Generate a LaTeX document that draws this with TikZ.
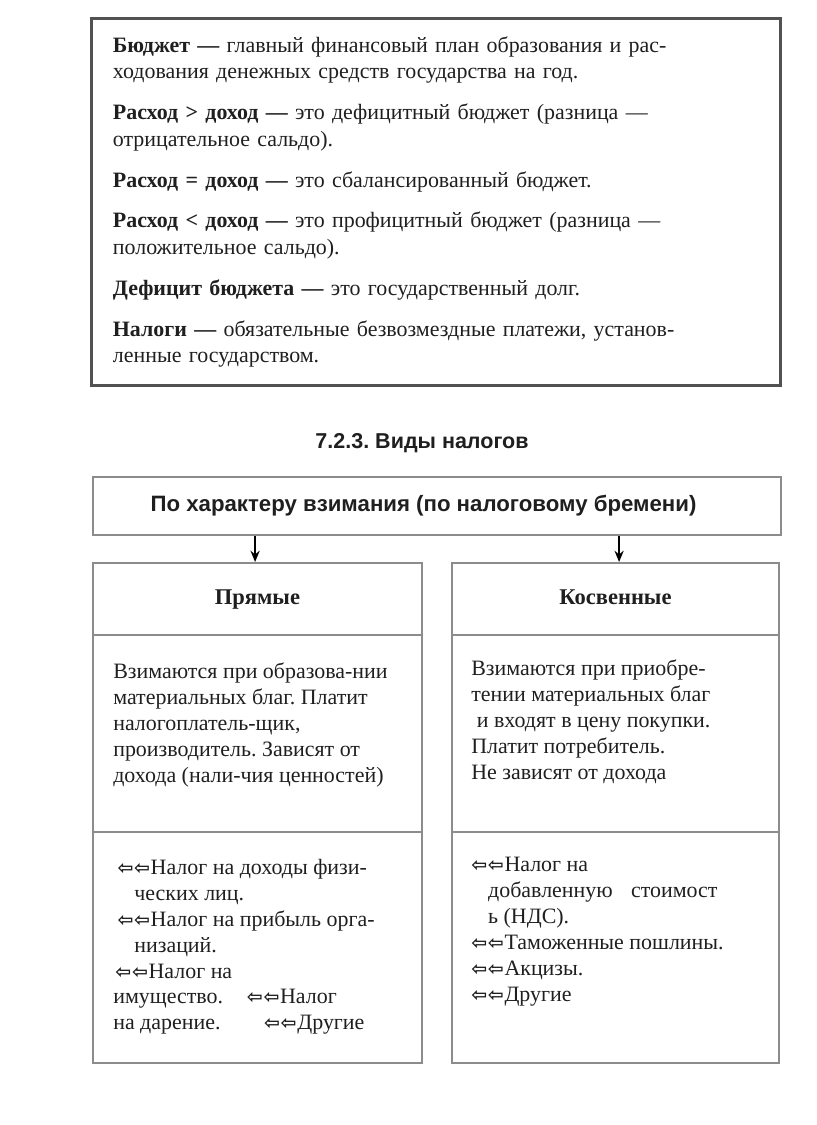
\documentclass[tikz,border=0pt]{standalone}
\usepackage{fontspec}
\setmainfont{Liberation Serif}
\setsansfont{Liberation Sans}
\newfontfamily\arrowfont{DejaVu Sans}
\usetikzlibrary{arrows.meta}
\frenchspacing
\colorlet{framegray}{black!68}
\colorlet{cellgray}{black!45}
\colorlet{inkdark}{black!88}
\newcommand{\dblarrow}{{\arrowfont\bfseries\fontsize{13.5}{13.5}\selectfont ⇦\kern0.5pt⇦\kern0.5pt}}
\tikzstyle{budget}=[draw=framegray, line width=2.1pt, inner xsep=0.525cm, text width=16.15cm, minimum height=9.175cm, align=left, text=inkdark, font=\fontsize{15.6}{18.8}\selectfont]
\tikzstyle{heading}=[font=\sffamily\bfseries\fontsize{15.3}{18}\selectfont, text=inkdark]
\tikzstyle{cell}=[draw=cellgray, line width=1.4pt, inner sep=0pt, text height=11pt, text depth=3pt, text=inkdark, font=\bfseries\fontsize{16}{18.8}\selectfont]
\tikzstyle{celltext}=[anchor=north west, inner sep=0pt, align=left, text=inkdark, font=\fontsize{15.6}{18.4}\selectfont]
\tikzstyle{down}=[-{Stealth[length=8pt, width=6.5pt]}, line width=1.3pt, black]

\begin{document}
\begin{tikzpicture}[x=0.025cm, y=-0.025cm]
				\useasboundingbox (0,0) rectangle (816,1125);

				% Definitions block
				\node[budget] (budgetbox) at (436,202) {%
					\textbf{Бюджет —} главный финансовый план образования и рас-\\
					ходования денежных средств государства на год.\\[10.3pt]
					\textbf{Расход > доход —} это дефицитный бюджет (разница —\\
					отрицательное сальдо).\\[10.3pt]
					\textbf{Расход = доход —} это сбалансированный бюджет.\\[10.3pt]
					\textbf{Расход < доход —} это профицитный бюджет (разница —\\
					положительное сальдо).\\[10.3pt]
					\textbf{Дефицит бюджета —} это государственный долг.\\[10.3pt]
					\textbf{Налоги —} обязательные безвозмездные платежи, установ-\\
					ленные государством.};

				\node[heading] (title) at (422,443) {7.2.3. Виды налогов};

				\node[cell, minimum width=17.2cm, minimum height=1.45cm] (levy) at (437,506) {};
				\node[heading, font=\sffamily\bfseries\fontsize{15.8}{18}\selectfont] (levytext) at (423.5,506) {По характеру взимания (по налоговому бремени)};

				% Direct taxes column
				\node[cell, minimum width=8.225cm, minimum height=1.8cm] (direct) at (257.5,599) {Прямые};
				\node[cell, minimum width=8.225cm, minimum height=4.925cm] (directwhen) at (257.5,733.5) {};
				\node[cell, minimum width=8.225cm, minimum height=5.775cm] (directlist) at (257.5,947.5) {};

				% Indirect taxes column
				\node[cell, minimum width=8.175cm, minimum height=1.8cm] (indirect) at (615.5,599) {Косвенные};
				\node[cell, minimum width=8.175cm, minimum height=4.925cm] (indirectwhen) at (615.5,733.5) {};
				\node[cell, minimum width=8.175cm, minimum height=5.775cm] (indirectlist) at (615.5,947.5) {};

				\draw[down] ([xshift=-0.06cm]levy.south -| direct.north) -- ([xshift=-0.06cm]direct.north);
				\draw[down] ([xshift=0.09cm]levy.south -| indirect.north) -- ([xshift=0.09cm]indirect.north);

				\node[celltext] (directwhentext) at (113,663) {%
					Взимаются при образова-нии\\
					материальных благ. Платит\\
					налогоплатель-щик,\\
					производитель. Зависят от\\
					дохода (нали-чия ценностей)};
				\node[celltext] (indirectwhentext) at (471,660) {%
					Взимаются при приобре-\\
					тении материальных благ\\
					\hspace*{4pt}и входят в цену покупки.\\
					Платит потребитель.\\
					Не зависят от дохода};

				\node[celltext] (directlisttext) at (113,859) {%
					\hspace*{3pt}\dblarrow Налог на доходы физи-\\
					\hspace*{15pt}ческих лиц.\\
					\hspace*{3pt}\dblarrow Налог на прибыль орга-\\
					\hspace*{15pt}низаций.\\
					\hspace*{1.5pt}\dblarrow Налог на\\
					имущество.\hspace{17pt}\dblarrow Налог\\
					на дарение.\hspace{31pt}\dblarrow Другие};
				\node[celltext] (indirectlisttext) at (471,857) {%
					\dblarrow Налог на\\
					\hspace*{12pt}добавленную\hspace{13pt}стоимост\\
					\hspace*{12pt}ь (НДС).\\
					\dblarrow Таможенные пошлины.\\
					\dblarrow Акцизы.\\
					\dblarrow Другие};
\end{tikzpicture}
\end{document}
